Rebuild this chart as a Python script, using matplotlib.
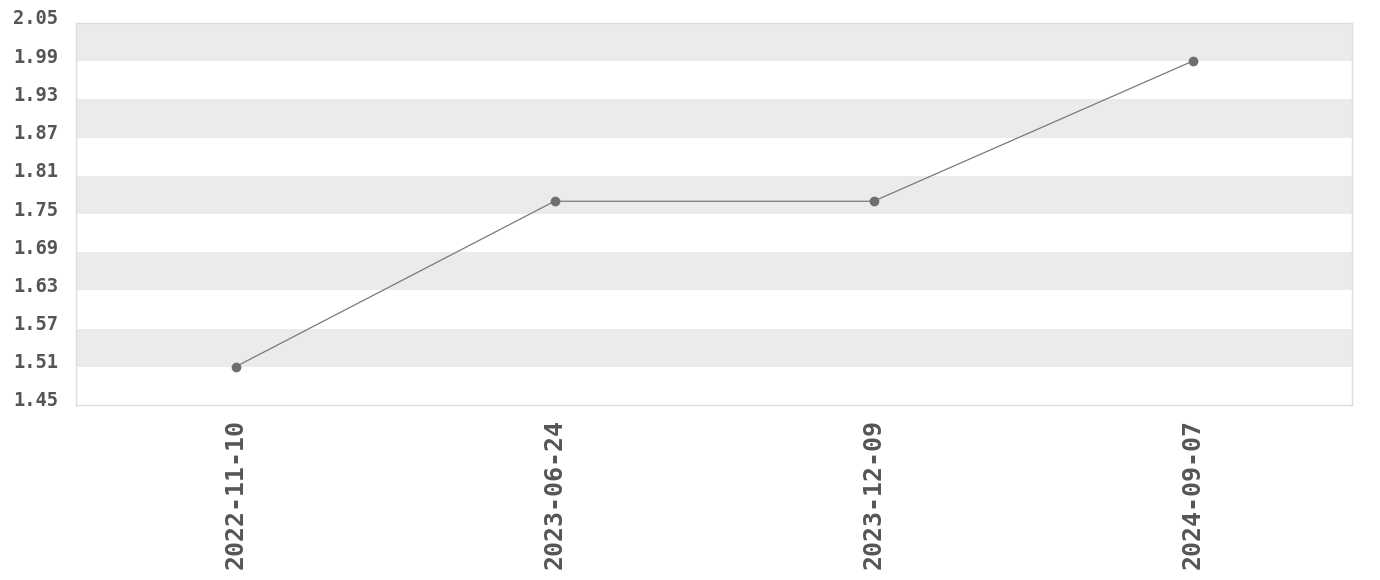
import numpy as np
import matplotlib.pyplot as plt
import matplotlib.transforms as mtransforms

dates = ['2022-11-10', '2023-06-24', '2023-12-09', '2024-09-07']
values = [1.51, 1.77, 1.77, 1.99]
yticks = [1.45, 1.51, 1.57, 1.63, 1.69, 1.75, 1.81, 1.87, 1.93, 1.99, 2.05]

plt.rcParams['font.family'] = ['DejaVu Sans Mono']
plt.rcParams['font.weight'] = 'bold'

fig = plt.figure(figsize=(13.8, 5.8), dpi=100)
ax = fig.add_axes([76 / 1380, 1 - 405 / 580, 1276 / 1380, 382 / 580])

# alternating bands, gray from the top down
for i in range(len(yticks) - 1):
    if (len(yticks) - 2 - i) % 2 == 0:
        ax.axhspan(yticks[i], yticks[i + 1], color='#ebebeb', lw=0, zorder=0)

x = np.arange(len(dates))
ax.plot(x, values, '-o', c='#7a7a7a', lw=0.9, markersize=7,
        markerfacecolor='#6e6e6e', markeredgewidth=0, zorder=3)

ax.set_xlim(-0.5, len(dates) - 0.5)
ax.set_ylim(1.45, 2.05)
ax.set_yticks(yticks)
ax.set_yticklabels(['%.2f' % t for t in yticks], fontsize=13.5, color='#555555')
ax.set_xticks(x)
ax.set_xticklabels(dates, rotation=90, fontsize=18, color='#555555')
ax.tick_params(axis='y', length=0, pad=13)
ax.tick_params(axis='x', length=0, pad=10)
# y labels sit a little above their tick lines
off = mtransforms.ScaledTranslation(0, 6 / 100, fig.dpi_scale_trans)
for lab in ax.get_yticklabels():
    lab.set_transform(lab.get_transform() + off)
for s in ax.spines.values():
    s.set_color('#dddddd')
    s.set_linewidth(1)

plt.savefig('out.png', dpi=100)
